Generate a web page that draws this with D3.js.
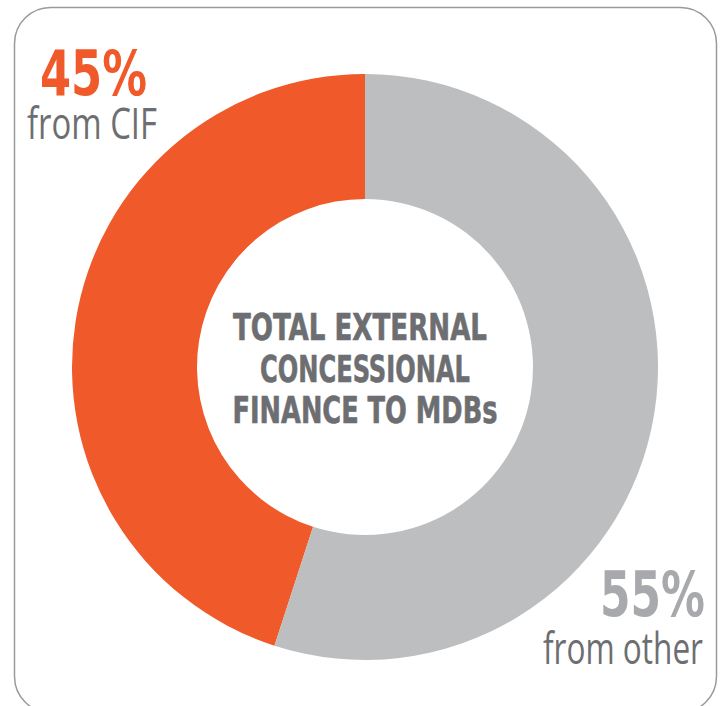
<!DOCTYPE html>
<html>
<head>
<meta charset="utf-8">
<script src="https://cdn.jsdelivr.net/npm/d3@7"></script>
<style>
  html, body { margin: 0; padding: 0; background: #fff; }
  svg { display: block; }
</style>
</head>
<body>
<svg id="chart" width="720" height="706"></svg>
<script>
const categories = ["from CIF", "from other"];
const values = [45, 55];
const percentLabels = ["45%", "55%"];
const centerLines = ["TOTAL EXTERNAL", "CONCESSIONAL", "FINANCE TO MDBs"];

const colors = ["#F0592A", "#BCBEC0"];
const textGray = "#6D6E71";

const svg = d3.select("#chart");

// frame
svg.append("rect")
  .attr("x", 14.5).attr("y", 7.5)
  .attr("width", 702).attr("height", 705)
  .attr("rx", 36).attr("ry", 36)
  .attr("fill", "none")
  .attr("stroke", "#9a9a9a")
  .attr("stroke-width", 1.5);

const cx = 365, cy = 367, rOuter = 293, rInner = 168;

const pie = d3.pie().sort(null)
  .startAngle(-2 * Math.PI * values[0] / 100)
  .endAngle(2 * Math.PI - 2 * Math.PI * values[0] / 100)
  .value(d => d);
const arc = d3.arc().innerRadius(rInner).outerRadius(rOuter);

const g = svg.append("g").attr("transform", `translate(${cx},${cy})`);
g.selectAll("path")
  .data(pie(values))
  .join("path")
  .attr("d", arc)
  .attr("fill", (d, i) => colors[i]);

// center text
const fontBold = "'Liberation Sans Narrow', 'DejaVu Sans Condensed', 'Liberation Sans', sans-serif";
const lineWidths = [254, 210, 265];
const lineBaselines = [340, 382, 423];
svg.append("g").selectAll("text")
  .data(centerLines)
  .join("text")
  .attr("x", (d, i) => i === 0 ? 360 : 365)
  .attr("y", (d, i) => lineBaselines[i])
  .attr("text-anchor", "middle")
  .attr("font-family", fontBold)
  .attr("font-weight", "bold")
  .attr("font-size", 38)
  .attr("fill", textGray)
  .attr("stroke", textGray)
  .attr("stroke-width", 0.6)
  .attr("textLength", (d, i) => lineWidths[i])
  .attr("lengthAdjust", "spacingAndGlyphs")
  .text(d => d);

// labels
const fontLight = "'Open Sans', 'Liberation Sans', sans-serif";
const labelDefs = [
  { pctX: 40, pctY: 95, pctW: 107, pctColor: colors[0], subX: 27, subY: 139, subW: 130 },
  { pctX: 600, pctY: 616, pctW: 105, pctColor: "#A7A9AC", subX: 543, subY: 664, subW: 160 }
];
labelDefs.forEach((L, i) => {
  svg.append("text")
    .attr("x", L.pctX).attr("y", L.pctY)
    .attr("font-family", fontBold)
    .attr("font-weight", "bold")
    .attr("font-size", 62)
    .attr("fill", L.pctColor)
    .attr("textLength", L.pctW)
    .attr("lengthAdjust", "spacingAndGlyphs")
    .text(percentLabels[i]);
  svg.append("text")
    .attr("x", L.subX).attr("y", L.subY)
    .attr("font-family", fontLight)
    .attr("font-weight", 400)
    .attr("font-size", 43)
    .attr("fill", textGray)
    .attr("textLength", L.subW)
    .attr("lengthAdjust", "spacingAndGlyphs")
    .text(categories[i]);
});
</script>
</body>
</html>
